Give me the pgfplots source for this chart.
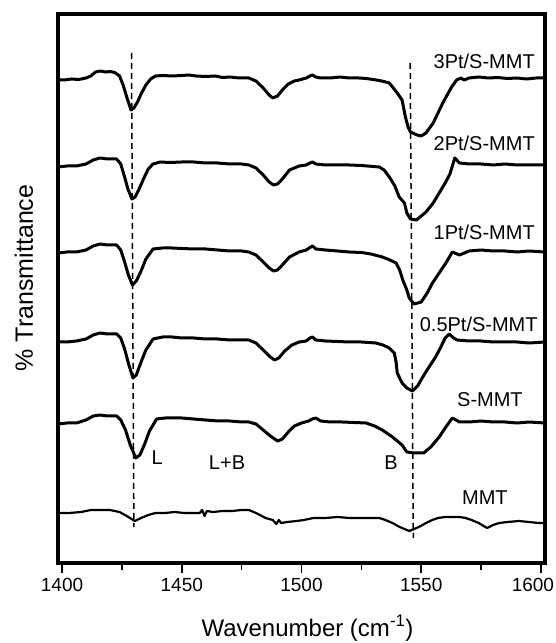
\documentclass[border=0pt]{standalone}
\usepackage{pgfplots}
\pgfplotsset{compat=1.18}
\usepackage{fontspec}
\setmainfont{Liberation Sans}
\pgfplotstableread{
x y
1398.3 -80
1401 -80
1404 -79
1407 -79.5
1410 -78
1412 -76
1414 -72
1416 -71
1418 -72
1420 -71.5
1422 -72.5
1424 -76
1425.5 -85
1427 -97
1428.8 -110
1430 -108
1431.5 -102
1433 -94
1435 -85
1437 -79
1439 -76
1442 -75.5
1446 -76
1450 -75.5
1453 -75
1456 -76
1460 -76.5
1464 -76
1467 -77.5
1470 -77
1474 -78
1478 -78
1481 -81
1484 -88
1486.5 -95
1488 -98
1490 -96
1492 -90
1494.5 -84
1497 -81
1499 -80
1502 -78
1503.5 -76
1504.6 -75
1506 -77
1508 -78
1512 -78
1516 -77
1520 -78
1524 -78
1527 -78.5
1530 -79.5
1533.5 -81
1536.7 -83
1540 -93
1542 -100
1543.4 -117
1544.5 -127
1545.5 -132
1548.3 -135
1550 -136
1552 -133
1555 -123
1559 -103
1562.7 -87
1564.8 -80
1566.5 -78
1568 -80
1570 -78
1574 -77
1578 -78
1582 -77.5
1586 -78.5
1590 -78
1594 -79
1598 -78
1601.7 -78
}\tPtThree
\pgfplotstableread{
x y
1398.3 -167
1402 -166
1406 -166
1410 -164
1413 -160
1415.8 -158
1419 -159
1422.8 -159
1424.5 -164
1426 -176
1427.5 -189
1429.2 -199
1430.5 -197
1432 -190
1434 -179
1436 -169
1438 -164
1441 -162
1445 -162.5
1450 -162
1455 -162
1460 -163
1465 -163
1470 -164
1475 -164
1478 -165
1481 -168
1484 -175
1486.5 -182
1488.3 -185
1490 -184
1492 -179
1495 -170
1499 -166
1502 -165
1503.5 -163
1504.6 -162
1506 -164
1510 -165
1515 -165
1520 -165
1525 -165.5
1530 -166.5
1532.5 -167
1534.5 -170
1536.7 -177
1539 -186
1540.8 -197
1543 -203
1544 -213
1545.5 -219
1548 -220
1552 -212
1555 -203
1557.5 -193
1560 -183
1562 -174
1564 -158
1566 -163
1570 -164
1575 -164
1580 -165
1585 -164
1590 -165
1595 -165
1601.7 -165
}\tPtTwo
\pgfplotstableread{
x y
1398.3 -253
1402 -252
1406 -252
1410 -250
1413 -246
1415.8 -244
1419 -245
1422.8 -245
1424.5 -250
1426 -261
1427.7 -275
1429.4 -285
1431 -281
1433 -271
1435 -259
1438 -249
1442 -248
1446 -248
1450 -248.5
1455 -249
1460 -249
1465 -250
1470 -251
1475 -251
1478 -252
1481 -255
1484 -262
1486.5 -268
1488.3 -271
1490 -270
1492 -265
1495 -257
1499 -252
1502 -250
1503.5 -247.5
1504.6 -246
1506 -249
1510 -250
1515 -251
1520 -252
1525 -252.5
1529 -254
1533.75 -257
1537 -260
1539.5 -263
1541 -270
1542.3 -280
1544 -290
1545 -298
1547 -304
1550 -302
1552.5 -293
1554.7 -283
1557.5 -273
1560.3 -263
1563 -252
1566 -255
1570 -251
1575 -250
1580 -251
1585 -251
1590 -252
1595 -251
1601.7 -252
}\tPtOne
\pgfplotstableread{
x y
1398.3 -342
1402 -342
1406 -341
1410 -339
1413 -335
1415.8 -333
1419 -334
1422.8 -334
1424.5 -338
1426 -348
1427.8 -364
1429.6 -378
1431 -375
1433 -362
1435 -350
1438 -339
1442 -337
1446 -337
1450 -338
1455 -338
1460 -339
1465 -339
1470 -340
1475 -340
1478 -340
1481 -343
1484 -350
1487 -357
1488.75 -360
1490.5 -358
1493 -351
1496 -345
1499 -342
1502 -341
1503.5 -338
1504.6 -337
1506 -340
1510 -341
1515 -341.5
1520 -342
1525 -342
1531 -343
1534 -345
1536.7 -348
1538.75 -353
1539.5 -362
1540 -373
1542 -383
1544 -388
1546.3 -391
1548.5 -386
1550.4 -378
1553 -368
1556 -357
1558 -348
1560 -338
1561.7 -334
1563.5 -338
1565 -340
1570 -341
1575 -341
1580 -342
1585 -342
1590 -342
1595 -343
1601.7 -342
}\tPtHalf
\pgfplotstableread{
x y
1398.3 -424
1402 -423
1406 -423
1410 -420
1413 -416
1415.8 -415
1419 -416
1422.8 -416
1424.5 -420
1426.5 -430
1428.5 -445
1430.8 -458
1432.5 -455
1434.5 -444
1436.5 -431
1439.5 -419
1443 -418
1447 -418
1450 -418
1455 -419
1460 -420
1465 -421
1470 -421
1475 -422
1478 -422
1481 -424
1484 -430
1487 -436
1490 -441
1492 -439
1494.5 -432
1497 -426
1500 -423
1503 -421
1504.5 -419
1506 -418
1508 -421
1512 -422
1517 -422
1522 -422.5
1527 -423
1530.5 -426
1533.75 -430
1538 -437
1542 -445
1544 -452
1547 -453
1551 -453
1554 -447
1557.5 -437
1560 -428
1563 -418
1566 -422
1570 -422
1575 -421
1580 -422
1585 -422
1590 -423
1595 -422
1601.7 -423
}\tSMMT
\pgfplotstableread{
x y
1398.3 -513
1403 -513
1408 -512
1412 -510
1416 -510
1420 -510
1424 -512
1427 -516
1430.4 -521
1433 -518
1436 -515
1439 -513
1443 -513
1447 -512
1451 -513
1455 -513
1457.5 -513
1458.5 -510
1459.5 -516
1460.5 -511
1463 -512
1467 -511
1471 -511
1475 -510
1478 -510
1481 -513
1485 -518
1488 -520
1489.5 -524
1490.5 -520
1491.5 -523
1494 -522
1498 -521
1501 -520
1505 -518
1510 -518
1515 -517
1520 -518
1525 -518
1529 -518
1532.5 -518
1535 -520
1538 -523
1541 -527
1545 -531
1549 -527
1552 -523
1554.6 -520
1557 -518
1560 -517
1563 -517
1566 -517
1568.6 -518
1571 -520
1574 -523
1577.5 -528
1580 -525
1582.5 -523
1586 -522
1590.8 -521
1595 -522
1599 -523
1601.7 -523
}\tMMT
\begin{document}
\begin{tikzpicture}
\begin{axis}[
  scale only axis,
  width=487pt, height=549pt,
  xmin=1398.3, xmax=1601.7,
  ymin=-563, ymax=-14,
  clip=false,
  axis line style={line width=3.4pt},
  xtick={1400,1450,1500,1550,1600},
  xticklabels={1400,1450,1500,1550,\hspace*{-16pt}1600},
  minor xtick={1425,1475,1525,1575},
  ytick=\empty,
  xtick pos=bottom,
  tick align=outside,
  major tick length=10pt,
  minor tick length=7pt,
  every tick/.style={black, line width=1.5pt},
  xticklabel style={font=\fontsize{19}{21}\selectfont, yshift=-2pt},
]
\addplot[black, line width=3pt, line join=round] table {\tPtThree};
\addplot[black, line width=3pt, line join=round] table {\tPtTwo};
\addplot[black, line width=3pt, line join=round] table {\tPtOne};
\addplot[black, line width=3pt, line join=round] table {\tPtHalf};
\addplot[black, line width=3pt, line join=round] table {\tSMMT};
\addplot[black, line width=2.2pt, line join=round] table {\tMMT};
\addplot[black, line width=1.5pt, dash pattern=on 6pt off 4pt] coordinates {(1429,-53) (1430,-527)};
\addplot[black, line width=1.5pt, dash pattern=on 6pt off 4pt] coordinates {(1545.4,-63) (1546.7,-538)};
\begin{scope}[every node/.style={font=\fontsize{20}{22}\selectfont, inner sep=0pt}]
\node[anchor=east] at (axis cs:1597.5,-61) {3Pt/S-MMT};
\node[anchor=east] at (axis cs:1597.5,-143) {2Pt/S-MMT};
\node[anchor=east] at (axis cs:1597.5,-232) {1Pt/S-MMT};
\node[anchor=east] at (axis cs:1598.7,-324) {0.5Pt/S-MMT};
\node at (axis cs:1578.7,-400) {S-MMT};
\node at (axis cs:1576.6,-498) {MMT};
\node at (axis cs:1439.7,-458) {L};
\node at (axis cs:1468.9,-463) {L+B};
\node at (axis cs:1537.4,-463) {B};
\node[anchor=base, font=\fontsize{24}{26}\selectfont] at (axis cs:1502.5,-636) {Wavenumber (cm\textsuperscript{-1})};
\node[rotate=90, font=\fontsize{25}{27}\selectfont] at (axis cs:1384.1,-278) {\% Transmittance};
\end{scope}
\end{axis}
\pgfresetboundingbox
\useasboundingbox ([xshift=-58pt,yshift=-80pt]current axis.south west) rectangle ([xshift=11pt,yshift=14pt]current axis.north east);
\end{tikzpicture}
\end{document}
